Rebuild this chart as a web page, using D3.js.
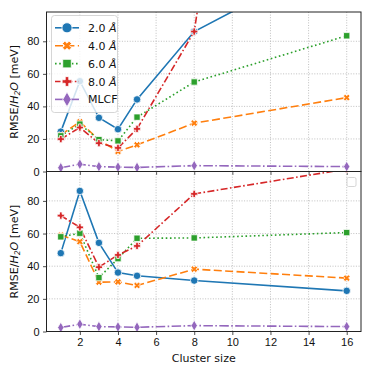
<!DOCTYPE html>
<html>
<head>
<meta charset="utf-8">
<script src="https://cdn.jsdelivr.net/npm/d3@7"></script>
<style>
  body { margin: 0; background: #fff; }
  svg { display: block; font-family: "DejaVu Sans", sans-serif; }
</style>
</head>
<body>
<div id="chart"></div>
<script>
var width = 373,
    height = 374;

// cluster sizes on the x axis
const clusterSizes = [1, 2, 3, 4, 5, 8, 16];
const xTicks = [2, 4, 6, 8, 10, 12, 14, 16];
const yTicks = [0, 20, 40, 60, 80];

// series names and values, top panel
const seriesNames = ["2.0 Å", "4.0 Å", "6.0 Å", "8.0 Å", "MLCF"];
const topR2 = [24.5, 55.5, 33, 26, 44.3, 86, 135];
const topR4 = [22.5, 30.5, 19.4, 12.3, 16.4, 29.7, 45.4];
const topR6 = [21.9, 29.1, 19.6, 18.8, 33.4, 55, 83.4];
const topR8 = [19.9, 27, 17.4, 14.5, 26.2, 86, 700];
const topMLCF = [2.3, 4.5, 3, 2.7, 2.5, 3.6, 3];

// bottom panel
const botR2 = [48, 86.1, 54.3, 36.1, 34.1, 31.2, 24.9];
const botR4 = [59, 55, 30.2, 30.4, 28.2, 38.2, 32.7];
const botR6 = [58, 60.2, 33, 44.6, 57.1, 57.3, 60.6];
const botR8 = [71, 63.8, 39.4, 46.9, 52.4, 84.3, 99.5];
const botMLCF = [2.4, 4.5, 3, 2.8, 2.6, 3.6, 3];

const colors = ["#1f77b4", "#ff7f0e", "#2ca02c", "#d62728", "#9467bd"];
const dashes = [null, "8,3.4", "1.6,2.6", "7,2.4,1.6,2.4", "9.5,2.4,1.6,2.4"];
const markerTypes = ["circle", "x", "square", "plus", "diamond"];

var left = 46.5, right = 361;
var panels = [
  {top: 12, bottom: 171.5, data: [topR2, topR4, topR6, topR8, topMLCF], legend: true},
  {top: 171.5, bottom: 331.5, data: [botR2, botR4, botR6, botR8, botMLCF], legend: false}
];

var svg = d3.select("#chart").append("svg")
  .attr("width", width)
  .attr("height", height);

var x = d3.scaleLinear().domain([0.25, 16.75]).range([left, right]);

// marker shapes built from d3 symbols
function markerPath(type) {
  var sym;
  if (type === "circle") sym = d3.symbol(d3.symbolCircle, 44);
  else if (type === "square") sym = d3.symbol(d3.symbolSquare, 40);
  else if (type === "diamond") sym = d3.symbol(d3.symbolDiamond, 34);
  else if (type === "x") return xPath(3.5, 1.3);
  else return plusPath(3.6, 1.3);
  return sym();
}
function plusPath(r, w) {
  return "M" + (-w) + "," + (-r) + "H" + w + "V" + (-w) + "H" + r + "V" + w + "H" + w +
    "V" + r + "H" + (-w) + "V" + w + "H" + (-r) + "V" + (-w) + "H" + (-w) + "Z";
}
function xPath(r, w) {
  // rotated plus
  var p = [[-w, -r], [w, -r], [w, -w], [r, -w], [r, w], [w, w], [w, r], [-w, r], [-w, w], [-r, w], [-r, -w], [-w, -w]];
  var c = Math.SQRT1_2;
  return "M" + p.map(function(d) { return [(d[0] - d[1]) * c, (d[0] + d[1]) * c].join(","); }).join("L") + "Z";
}

panels.forEach(function(panel, pi) {
  var y = d3.scaleLinear().domain([0, 98]).range([panel.bottom, panel.top]);
  var g = svg.append("g");

  var clipId = "clip" + pi;
  svg.append("clipPath").attr("id", clipId)
    .append("rect")
    .attr("x", left).attr("y", panel.top)
    .attr("width", right - left).attr("height", panel.bottom - panel.top);

  // grid
  g.selectAll(".gx").data(xTicks).enter().append("line")
    .attr("x1", d => x(d)).attr("x2", d => x(d))
    .attr("y1", panel.top).attr("y2", panel.bottom)
    .attr("stroke", "#b0b0b0").attr("stroke-width", 0.8)
    .attr("stroke-dasharray", "1,1.6");
  g.selectAll(".gy").data(yTicks.slice(1)).enter().append("line")
    .attr("x1", left).attr("x2", right)
    .attr("y1", d => y(d)).attr("y2", d => y(d))
    .attr("stroke", "#b0b0b0").attr("stroke-width", 0.8)
    .attr("stroke-dasharray", "1,1.6");

  // lines
  var line = d3.line().x((d, i) => x(clusterSizes[i])).y(d => y(d));
  var plot = g.append("g").attr("clip-path", "url(#" + clipId + ")");
  panel.data.forEach(function(vals, si) {
    plot.append("path")
      .attr("d", line(vals))
      .attr("fill", "none")
      .attr("stroke", colors[si])
      .attr("stroke-width", 1.6)
      .attr("stroke-dasharray", dashes[si]);
  });
  panel.data.forEach(function(vals, si) {
    plot.selectAll(null).data(vals).enter().append("path")
      .attr("transform", (d, i) => "translate(" + x(clusterSizes[i]) + "," + y(d) + ")")
      .attr("d", markerPath(markerTypes[si]))
      .attr("fill", colors[si])
      .attr("stroke", "#fff")
      .attr("stroke-width", 0.8);
  });

  // axes
  var yAxis = d3.axisLeft(y).tickValues(yTicks).tickSize(3.5).tickPadding(3.5);
  var ag = g.append("g").attr("transform", "translate(" + left + ",0)").call(yAxis);
  ag.select(".domain").remove();
  ag.selectAll("text").attr("font-size", 11).attr("fill", "#111");
  ag.selectAll("line").attr("stroke", "#222").attr("stroke-width", 0.8);

  var xAxis = d3.axisBottom(x).tickValues(xTicks).tickSize(3.5).tickPadding(3.5);
  var xg = g.append("g").attr("transform", "translate(0," + panel.bottom + ")").call(xAxis);
  xg.select(".domain").remove();
  xg.selectAll("text").attr("font-size", 11).attr("fill", "#111");
  xg.selectAll("line").attr("stroke", "#222").attr("stroke-width", 0.8);
  if (pi === 0) xg.selectAll("text").remove();

  // frame
  g.append("rect")
    .attr("x", left).attr("y", panel.top)
    .attr("width", right - left).attr("height", panel.bottom - panel.top)
    .attr("fill", "none").attr("stroke", "#222").attr("stroke-width", 1);

  // y label
  var cy = (panel.top + panel.bottom) / 2;
  var lab = g.append("text")
    .attr("transform", "translate(17.5," + cy + ") rotate(-90)")
    .attr("text-anchor", "middle")
    .attr("font-size", 11)
    .attr("fill", "#111");
  lab.append("tspan").text("RMSE/");
  lab.append("tspan").attr("font-style", "italic").text("H");
  lab.append("tspan").attr("font-style", "italic").attr("font-size", 7.8).attr("dy", 2).text("2");
  lab.append("tspan").attr("font-style", "italic").attr("dy", -2).text("O");
  lab.append("tspan").text(" [meV]");

  // legend
  if (panel.legend) {
    var lg = g.append("g");
    lg.append("rect")
      .attr("x", 51.5).attr("y", 15.5).attr("width", 66).attr("height", 97)
      .attr("rx", 3)
      .attr("fill", "#fff").attr("fill-opacity", 0.8)
      .attr("stroke", "#ccc").attr("stroke-width", 0.8);
    seriesNames.forEach(function(name, si) {
      var ly = 27.8 + si * 17.9;
      lg.append("line")
        .attr("x1", 55).attr("x2", 79).attr("y1", ly).attr("y2", ly)
        .attr("stroke", colors[si]).attr("stroke-width", 1.6)
        .attr("stroke-dasharray", si === 4 ? null : (si === 3 ? "5.5,2.4,1.6,2.4" : dashes[si]));
      lg.append("path")
        .attr("transform", "translate(67," + ly + ") scale(1.35)")
        .attr("d", markerPath(markerTypes[si]))
        .attr("fill", colors[si]).attr("stroke", "#fff").attr("stroke-width", 0.6);
      lg.append("text")
        .attr("x", 88).attr("y", ly + 4)
        .attr("font-size", 11).attr("fill", "#111")
        .html(si === 4 ? name : name.replace("Å", "<tspan font-style='italic'>Å</tspan>"));
    });
  } else {
    svg.append("rect")
      .attr("x", 347).attr("y", 177.5).attr("width", 9).attr("height", 9).attr("rx", 1.5)
      .attr("fill", "#fff").attr("fill-opacity", 0.8)
      .attr("stroke", "#ccc").attr("stroke-width", 0.8);
  }
});

svg.append("text")
  .attr("x", (left + right) / 2).attr("y", 362)
  .attr("text-anchor", "middle")
  .attr("font-size", 11).attr("fill", "#111")
  .text("Cluster size");
</script>
</body>
</html>
